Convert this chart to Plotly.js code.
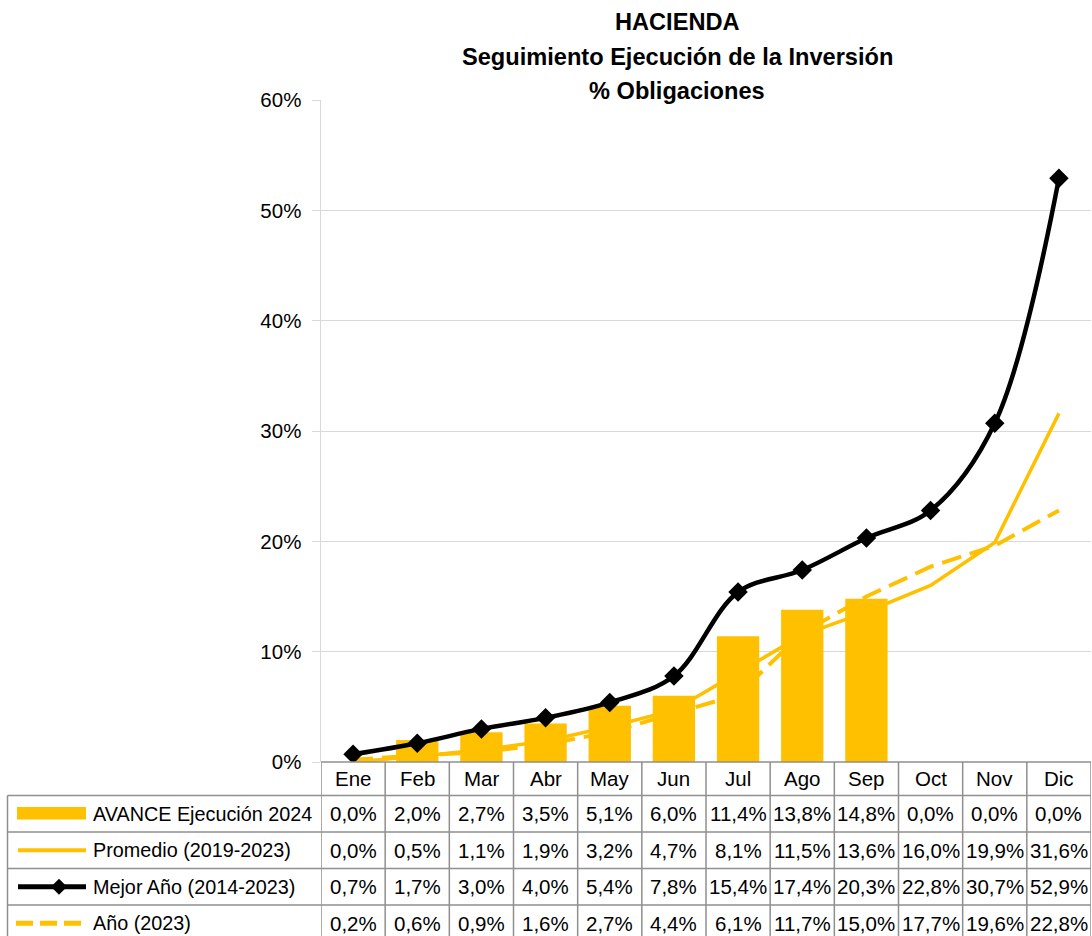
<!DOCTYPE html>
<html>
<head>
<meta charset="utf-8">
<script src="https://cdn.plot.ly/plotly-3.0.1.min.js"></script>
<style>html,body{margin:0;padding:0;background:#fff;}#chart{width:1092px;height:936px;}</style>
</head>
<body>
<div id="chart"></div>
<script>
const months = ["Ene","Feb","Mar","Abr","May","Jun","Jul","Ago","Sep","Oct","Nov","Dic"];
const avance2024 = [0.000,0.020,0.027,0.035,0.051,0.060,0.114,0.138,0.148,0.000,0.000,0.000];
const promedio = [0.000,0.005,0.011,0.019,0.032,0.047,0.081,0.115,0.136,0.160,0.199,0.316];
const mejorAno = [0.007,0.017,0.030,0.040,0.054,0.078,0.154,0.174,0.203,0.228,0.307,0.529];
const ano2023 = [0.002,0.006,0.009,0.016,0.027,0.044,0.061,0.117,0.150,0.177,0.196,0.228];
const seriesNames = ["AVANCE Ejecución 2024","Promedio (2019-2023)","Mejor Año (2014-2023)","Año (2023)"];
const titleLines = ["HACIENDA","Seguimiento Ejecución de la Inversión","% Obligaciones"];

const FONT = "'Liberation Sans', Arial, sans-serif";
const FS = 20.5;
const YEL = "#FFC000";
const W = 1092, H = 936, L = 321, R = 1, T = 100, B = 174;
const pw = W - L - R, ph = H - T - B;
const px = p => (p - L) / pw;
const py = p => (H - B - p) / ph;
const fmt = v => (v * 100).toFixed(1).replace('.', ',') + '%';

const traces = [
  {type:'bar', x: months, y: avance2024, name: seriesNames[0], marker:{color:YEL}, width:0.66, hoverinfo:'skip'},
  {type:'scatter', mode:'lines', x: months, y: promedio, name: seriesNames[1], line:{color:YEL, width:3.5}},
  {type:'scatter', mode:'lines', x: months, y: ano2023, name: seriesNames[3], line:{color:YEL, width:4, dash:'20px,9px'}},
  {type:'scatter', mode:'lines+markers', x: months, y: mejorAno, name: seriesNames[2],
   line:{color:'#000', width:4.5, shape:'spline', smoothing:1}, marker:{symbol:'diamond', size:15, color:'#000'}}
];

const shapes = [];
const annotations = [];
const BORDER = {color:'#8f8f8f', width:1.5};
const rowTops = [762, 795.5, 832, 868.5, 905, 941.5];
shapes.push({type:'line', xref:'paper', yref:'paper', x0:0, x1:1, y0:py(762), y1:py(762), line:BORDER});
for (let r = 1; r < rowTops.length; r++) {
  shapes.push({type:'line', xref:'paper', yref:'paper', x0:px(7.5), x1:1, y0:py(rowTops[r]), y1:py(rowTops[r]), line:BORDER});
}
for (let i = 0; i <= months.length; i++) {
  shapes.push({type:'line', xref:'x', yref:'paper', x0:i - 0.5, x1:i - 0.5, y0:py(762), y1:py(941), line:BORDER});
}
shapes.push({type:'line', xref:'paper', yref:'paper', x0:px(7.5), x1:px(7.5), y0:py(795.5), y1:py(941), line:BORDER});

months.forEach((m, i) => {
  annotations.push({xref:'x', yref:'paper', x:i, y:py((rowTops[0]+rowTops[1])/2), text:m, showarrow:false,
    xanchor:'center', yanchor:'middle', font:{family:FONT, size:FS, color:'#000'}});
});
const rows = [avance2024, promedio, mejorAno, ano2023];
rows.forEach((arr, r) => {
  const yc = (rowTops[r+1] + rowTops[r+2]) / 2;
  arr.forEach((v, i) => {
    annotations.push({xref:'x', yref:'paper', x:i, y:py(yc), text:fmt(v), showarrow:false,
      xanchor:'center', yanchor:'middle', font:{family:FONT, size:FS, color:'#000'}});
  });
  annotations.push({xref:'paper', yref:'paper', x:px(91), y:py(yc), text:seriesNames[r], showarrow:false,
    xanchor:'left', yanchor:'middle', font:{family:FONT, size:19.8, color:'#000'}});
});
const titleY = [22, 57, 91];
titleLines.forEach((t, k) => {
  annotations.push({xref:'paper', yref:'paper', x:px(677), y:py(titleY[k]), text:'<b>' + t + '</b>', showarrow:false,
    xanchor:'center', yanchor:'middle', font:{family:FONT, size:23.6, color:'#000'}});
});
const yc1 = py((rowTops[2]+rowTops[3])/2), yc2 = py((rowTops[3]+rowTops[4])/2), yc3 = py((rowTops[4]+rowTops[5])/2);
shapes.push({type:'rect', xref:'paper', yref:'paper', x0:px(17), x1:px(86), y0:py(819.5), y1:py(807), fillcolor:YEL, line:{width:0}});
shapes.push({type:'line', xref:'paper', yref:'paper', x0:px(18), x1:px(86), y0:yc1, y1:yc1, line:{color:YEL, width:4}});
shapes.push({type:'line', xref:'paper', yref:'paper', x0:px(18), x1:px(86), y0:yc2, y1:yc2, line:{color:'#000', width:5}});
shapes.push({type:'path', xref:'paper', yref:'paper',
  path:`M ${px(51)} ${yc2} L ${px(59)} ${yc2 + 8/ph} L ${px(67)} ${yc2} L ${px(59)} ${yc2 - 8/ph} Z`,
  fillcolor:'#000', line:{width:0}});
shapes.push({type:'line', xref:'paper', yref:'paper', x0:px(16), x1:px(82), y0:yc3, y1:yc3, line:{color:YEL, width:5, dash:'17px,7px'}});

const layout = {
  width: W, height: H,
  margin: {l:L, r:R, t:T, b:B},
  paper_bgcolor:'#fff', plot_bgcolor:'#fff',
  showlegend:false,
  xaxis: {type:'category', range:[-0.5, 11.5], showticklabels:false, showgrid:false, zeroline:false, showline:false, ticks:''},
  yaxis: {range:[0, 0.6], tickvals:[0,0.1,0.2,0.3,0.4,0.5,0.6], tickformat:'.0%', showgrid:true, gridcolor:'#d9d9d9', gridwidth:1,
          zeroline:false, showline:true, linecolor:'#d9d9d9', linewidth:1.5, ticks:'outside', ticklen:8, tickcolor:'#d9d9d9',
          tickfont:{family:FONT, size:FS, color:'#000'}, ticklabelstandoff:6},
  shapes: shapes,
  annotations: annotations,
  font:{family:FONT}
};
Plotly.newPlot('chart', traces, layout, {displayModeBar:false, staticPlot:true});
</script>
</body>
</html>
